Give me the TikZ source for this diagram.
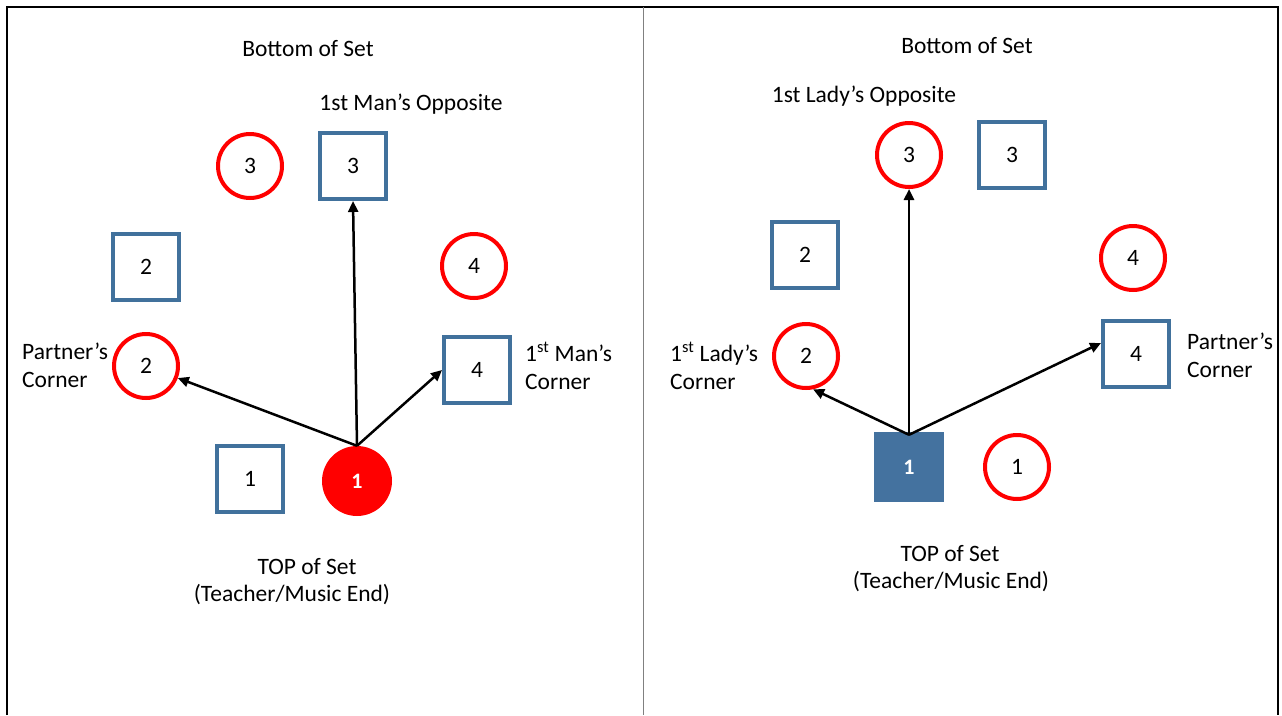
\documentclass[tikz,border=0pt]{standalone}
\usepackage{fontspec}
\setmainfont{Carlito}
\usetikzlibrary{arrows.meta}
\definecolor{sqblue}{HTML}{41719C}
\definecolor{sqfill}{HTML}{44729F}
\tikzset{
  lbl/.style={font=\fontsize{23.5}{28}\selectfont, inner sep=0pt},
  ring/.style={circle, draw=red, line width=4pt, minimum size=64pt, inner sep=0pt, font=\fontsize{23.5}{26}\selectfont},
  sq/.style={rectangle, draw=sqblue, line width=4pt, minimum size=66pt, inner sep=0pt, font=\fontsize{23.5}{26}\selectfont},
  fring/.style={circle, fill=red, minimum size=70pt, inner sep=0pt, text=white, font=\fontsize{22}{24}\selectfont\bfseries},
  fsq/.style={rectangle, fill=sqfill, minimum size=70pt, inner sep=0pt, text=white, font=\fontsize{22}{24}\selectfont\bfseries},
  arr/.style={line width=2.5pt, -{Triangle[length=11pt,width=10pt]}}
}
\begin{document}
\begin{tikzpicture}[x=1pt,y=-1pt]
\useasboundingbox (0,0) rectangle (1282,715);
\fill[white] (0,0) rectangle (1282,715);
\draw[line width=2pt] (7,715) -- (7,7) -- (1278,7) -- (1278,715);
\draw[line width=1pt, gray] (643,7) -- (643,715);

% Left panel
\node[lbl] (lbot) at (308,49) {Bottom of Set};
\node[lbl] (lopp) at (411,104) {1st Man’s Opposite};
\node[ring] (lc3) at (250,166) {3};
\node[sq] (ls3) at (353,166) {3};
\node[sq] (ls2) at (146,267) {2};
\node[ring] (lc4) at (474,266) {4};
\node[ring] (lc2) at (146,366) {2};
\node[sq] (ls4) at (477,370) {4};
\node[sq] (ls1) at (250,479) {1};
\node[fring] (lf1) at (357,481) {1};
\node[lbl, anchor=west, align=left] (lpc) at (22,365) {Partner’s\\Corner};
\node[lbl, anchor=west, align=left] (lmc) at (525,366) {1\textsuperscript{st} Man’s\\Corner};
\node[lbl] (ltop) at (307,567) {TOP of Set};
\node[lbl] (lte) at (292,595) {(Teacher/Music End)};
\draw[arr] (lf1.north) -- (ls3.south);
\draw[arr] (lf1.north) -- (lc2);
\draw[arr] (lf1.north) -- (ls4.west);

% Right panel
\node[lbl] (rbot) at (967,46) {Bottom of Set};
\node[lbl] (ropp) at (864,96) {1st Lady’s Opposite};
\node[ring] (rc3) at (909,155) {3};
\node[sq] (rs3) at (1012,155) {3};
\node[sq] (rs2) at (805,255) {2};
\node[ring] (rc4) at (1133,258) {4};
\node[ring] (rc2) at (806,356) {2};
\node[sq] (rs4) at (1136,354) {4};
\node[fsq] (rf1) at (909,467) {1};
\node[ring] (rc1) at (1017,467) {1};
\node[lbl, anchor=west, align=left] (rlc) at (670,366) {1\textsuperscript{st} Lady’s\\Corner};
\node[lbl, anchor=west, align=left] (rpc) at (1187,355) {Partner’s\\Corner};
\node[lbl] (rtop) at (950,554) {TOP of Set};
\node[lbl] (rte) at (951,582) {(Teacher/Music End)};
\draw[arr] ([yshift=-3pt]rf1.north) -- (rc3);
\draw[arr] ([yshift=-3pt]rf1.north) -- (rc2.-78);
\draw[arr] ([yshift=-3pt]rf1.north) -- ([yshift=11pt]rs4.west);
\end{tikzpicture}
\end{document}
